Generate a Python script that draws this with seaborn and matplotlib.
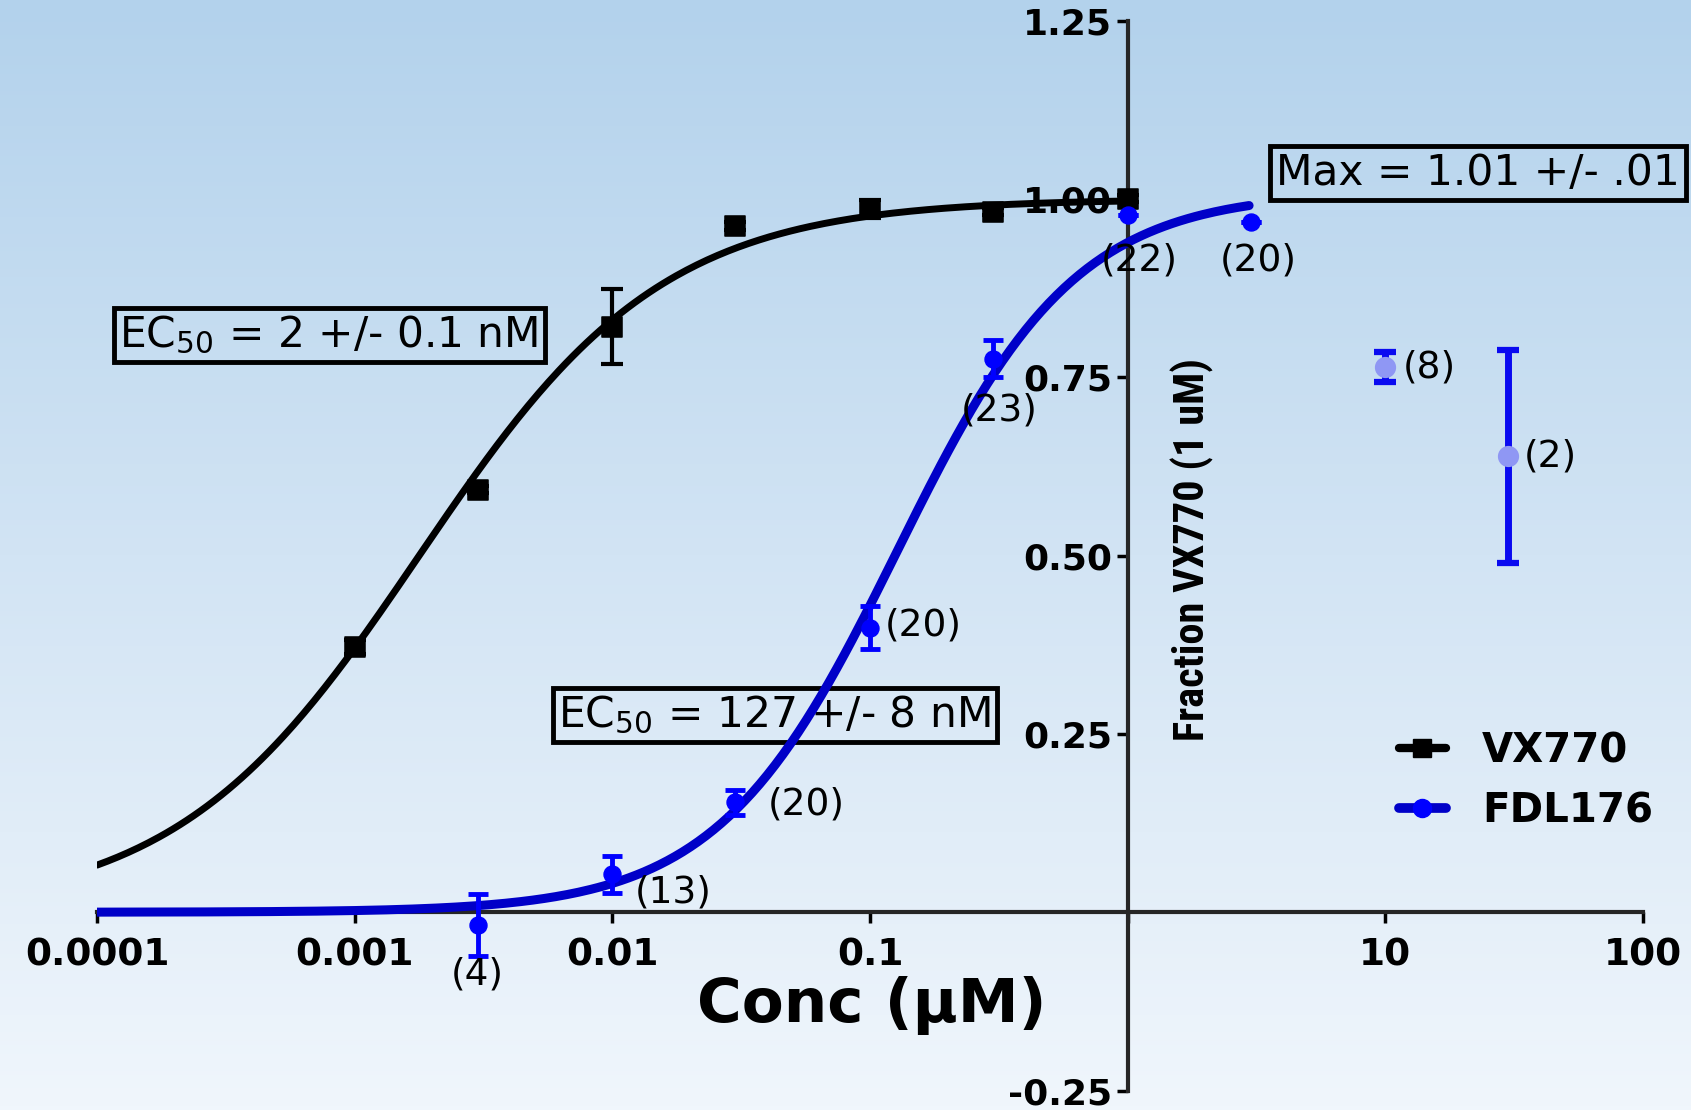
import numpy as np
import pandas as pd
import matplotlib
matplotlib.use("Agg")
import matplotlib.pyplot as plt
import seaborn as sns
from matplotlib.colors import LinearSegmentedColormap
from matplotlib.lines import Line2D
from matplotlib import font_manager

# ---------------- data ----------------
vx_conc = [0.001, 0.003, 0.01, 0.03, 0.1, 0.3, 1.0]
vx_resp = [0.372, 0.592, 0.821, 0.962, 0.986, 0.982, 1.0]
vx_err = [0.01, 0.005, 0.052, 0.005, 0.013, 0.005, 0.005]

fdl_conc = [0.003, 0.01, 0.03, 0.1, 0.3, 1.0, 3.0]
fdl_resp = [-0.018, 0.053, 0.154, 0.399, 0.776, 0.977, 0.968]
fdl_err = [0.043, 0.026, 0.017, 0.030, 0.026, 0.0, 0.0]
fdl_n = ["(4)", "(13)", "(20)", "(20)", "(23)", "(22)", "(20)"]

hi_conc = [10.0, 30.0]
hi_resp = [0.764, 0.639]
hi_err = [0.021, 0.149]
hi_n = ["(8)", "(2)"]

# fit parameters (from the annotations / curve shape)
vx_ec50, vx_hill, vx_top = 0.00178, 0.92, 1.0
fdl_ec50, fdl_hill, fdl_top = 0.127, 1.25, 1.01

x_ticks = [1e-4, 1e-3, 1e-2, 1e-1, 1, 10, 100]
x_ticklabels = ["0.0001", "0.001", "0.01", "0.1", "", "10", "100"]
y_ticks = [-0.25, 0.25, 0.50, 0.75, 1.00, 1.25]
y_ticklabels = ["-0.25", "0.25", "0.50", "0.75", "1.00", "1.25"]

# ---------------- figure ----------------
sns.set_style("ticks")
plt.rcParams["font.family"] = ["DejaVu Sans"]
for k in ["text.color", "axes.labelcolor", "xtick.color", "ytick.color"]:
    plt.rcParams[k] = "black"


def pick_font(cands):
    for c in cands:
        try:
            font_manager.findfont(font_manager.FontProperties(family=c, weight="bold"),
                                  fallback_to_default=False)
            return c
        except Exception:
            continue
    return "DejaVu Sans"


narrow = pick_font(["Liberation Sans Narrow", "Roboto Condensed", "Open Sans Condensed",
                    "Roboto", "Liberation Sans"])

fig = plt.figure(figsize=(16.91, 11.10), dpi=100)

# gradient background
bg = fig.add_axes([0, 0, 1, 1], zorder=-10)
cmap = LinearSegmentedColormap.from_list("bg", ["#b3d2ec", "#d2e4f4", "#f0f6fc"])
grad = np.linspace(0, 1, 256).reshape(-1, 1)
bg.imshow(grad, aspect="auto", cmap=cmap, extent=[0, 1, 0, 1], origin="upper")
bg.axis("off")

ax = fig.add_axes([0.0574, 0.0175, 0.9142, 0.9640])
ax.patch.set_alpha(0)
ax.set_xscale("log")

# fitted curves
xs_vx = np.logspace(-4, 0, 300)
xs_fdl = np.logspace(-4, np.log10(2.96), 300)
curve_vx = pd.DataFrame({"x": xs_vx, "y": vx_top / (1 + (vx_ec50 / xs_vx) ** vx_hill)})
curve_fdl = pd.DataFrame({"x": xs_fdl, "y": fdl_top / (1 + (fdl_ec50 / xs_fdl) ** fdl_hill)})
sns.lineplot(data=curve_vx, x="x", y="y", ax=ax, color="black", lw=5, zorder=3)
sns.lineplot(data=curve_fdl, x="x", y="y", ax=ax, color="#0000c8", lw=6.5, zorder=3)

# error bars
ax.errorbar(vx_conc, vx_resp, yerr=vx_err, fmt="none", ecolor="black",
            elinewidth=3, capsize=8, capthick=3, zorder=4)
ax.errorbar(fdl_conc, fdl_resp, yerr=fdl_err, fmt="none", ecolor="#0000ff",
            elinewidth=3.5, capsize=7, capthick=3.5, zorder=4)
ax.errorbar(hi_conc, hi_resp, yerr=hi_err, fmt="none", ecolor="#0a0af0",
            elinewidth=5, capsize=8, capthick=4.5, zorder=4)

# markers
sns.scatterplot(x=vx_conc, y=vx_resp, ax=ax, marker="s", s=200, color="black",
                edgecolor="black", zorder=5)
sns.scatterplot(x=fdl_conc, y=fdl_resp, ax=ax, marker="o", s=150, color="#0000ff",
                edgecolor="#0000ff", zorder=5)
sns.scatterplot(x=hi_conc, y=hi_resp, ax=ax, marker="o", s=200, color="#8f97f4",
                edgecolor="#8f97f4", zorder=5)

# n labels
lbl_fs = 27
lbl_pos = [(0.003, -0.087, "center"), (0.0122, 0.027, "left"), (0.040, 0.151, "left"),
           (0.114, 0.402, "left"), (0.317, 0.703, "center"), (1.11, 0.914, "center"),
           (3.2, 0.914, "center")]
for (lx, ly, ha), t in zip(lbl_pos, fdl_n):
    ax.text(lx, ly, t, ha=ha, va="center", fontsize=lbl_fs, zorder=6)
hi_lbl_pos = [(11.7, 0.764), (34.4, 0.639)]
for (lx, ly), t in zip(hi_lbl_pos, hi_n):
    ax.text(lx, ly, t, ha="left", va="center", fontsize=lbl_fs, zorder=6)

# annotation boxes
box = dict(boxstyle="square,pad=0.14", facecolor="none", edgecolor="black", lw=3.5)
ax.text(0.000795, 0.809, r"EC$_{50}$ = 2 +/- 0.1 nM", ha="center", va="center",
        fontsize=30.5, bbox=box, zorder=6)
ax.text(0.0427, 0.277, r"EC$_{50}$ = 127 +/- 8 nM", ha="center", va="center",
        fontsize=30.5, bbox=box, zorder=2)
fig.text(0.874, 0.844, "Max = 1.01 +/- .01", ha="center", va="center",
         fontsize=30.5, bbox=box, zorder=6)

# axes styling
ax.set_xlim(1e-4, 100)
ax.set_ylim(-0.25, 1.25)
ax.spines["left"].set_position(("data", 1))
ax.spines["bottom"].set_position(("data", 0))
ax.spines["top"].set_visible(False)
ax.spines["right"].set_visible(False)
ax.spines["left"].set_linewidth(3)
ax.spines["bottom"].set_linewidth(3)
ax.set_xticks(x_ticks)
ax.set_xticklabels(x_ticklabels, fontsize=27, fontweight="bold")
ax.xaxis.set_minor_locator(matplotlib.ticker.NullLocator())
ax.set_yticks(y_ticks)
ax.set_yticklabels(y_ticklabels, fontsize=26, fontweight="bold")
ax.tick_params(axis="both", direction="out", length=8, width=2.5, color="black")
ax.tick_params(axis="x", pad=10)
ax.tick_params(axis="y", pad=3)
ax.set_xlabel("")
ax.set_ylabel("")

fig.text(0.5153, 0.094, "Conc (μM)", ha="center", va="center", fontsize=44,
         fontweight="bold")
ylab = fig.text(0.705, 0.505, "Fraction VX770 (1 uM)", rotation=90, ha="center",
                va="center", fontsize=30, fontweight="bold",
                family=[narrow, "DejaVu Sans"])

# fit y-label length to reference (~383 px)
fig.canvas.draw()
r = fig.canvas.get_renderer()
h = ylab.get_window_extent(r).height
ylab.set_fontsize(30 * 383.0 / h)

# legend
handles = [
    Line2D([0], [0], color="black", lw=6, marker="s", markersize=13,
           markerfacecolor="black", markeredgecolor="black"),
    Line2D([0], [0], color="#0000c8", lw=7, marker="o", markersize=13,
           markerfacecolor="#0000ff", markeredgecolor="#0000ff"),
]
leg = fig.legend(handles, ["VX770", "FDL176"], loc="center left",
                 bbox_to_anchor=(0.806, 0.296), frameon=False,
                 prop={"size": 29, "weight": "bold"}, handlelength=1.15,
                 handletextpad=0.9, labelspacing=0.5)

fig.savefig("out.png", dpi=100)
